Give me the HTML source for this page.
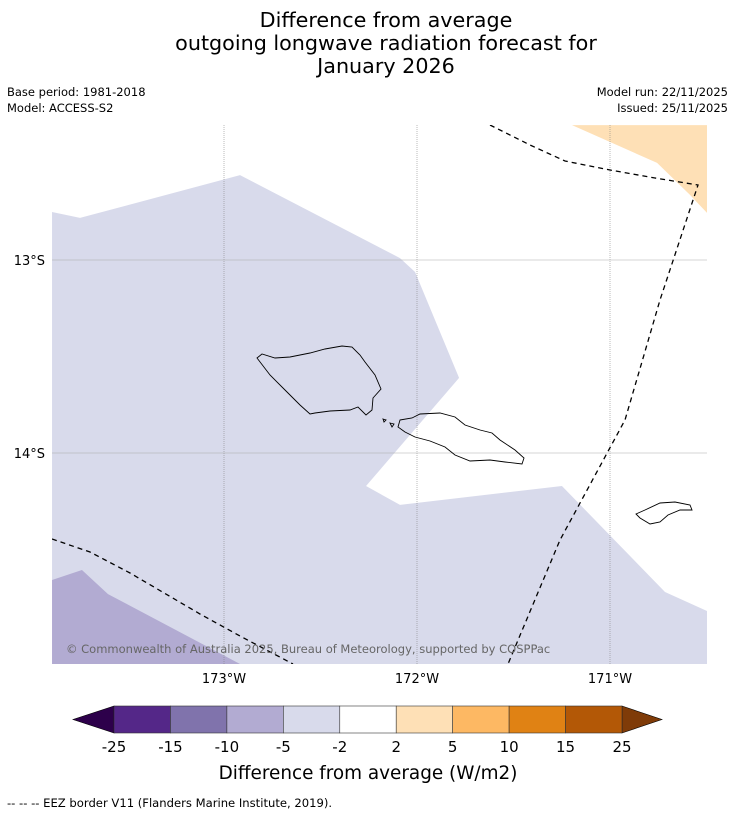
<!DOCTYPE html>
<html><head><meta charset="utf-8"><style>
body{margin:0;background:#fff;font-family:"DejaVu Sans","Liberation Sans",sans-serif;}
svg{display:block}
</style></head><body>
<svg width="736" height="816" viewBox="0 0 736 816" xmlns="http://www.w3.org/2000/svg">
<g font-family="DejaVu Sans, Liberation Sans, sans-serif" fill="#000">
<text x="386" y="27" font-size="20.7" text-anchor="middle">Difference from average</text>
<text x="386" y="50" font-size="20.7" text-anchor="middle">outgoing longwave radiation forecast for</text>
<text x="386" y="73" font-size="20.7" text-anchor="middle">January 2026</text>
<text x="7" y="96" font-size="11.5">Base period: 1981-2018</text>
<text x="7" y="112" font-size="11.5">Model: ACCESS-S2</text>
<text x="728" y="96" font-size="11.5" text-anchor="end">Model run: 22/11/2025</text>
<text x="728" y="112" font-size="11.5" text-anchor="end">Issued: 25/11/2025</text>
</g>
<g id="map"></g>
<g id="cbar"></g>
<text x="7" y="807" font-size="11.6" font-family="DejaVu Sans, Liberation Sans, sans-serif">--  --  -- EEZ border V11 (Flanders Marine Institute, 2019).</text>
</svg>
<script>
const lonTicks=[-173,-172,-171];
const lonTickLabels=["173°W","172°W","171°W"];
const latTicks=[-13,-14];
const latTickLabels=["13°S","14°S"];
const lightRegion=[[-173.891,-12.751],[-173.746,-12.782],[-172.917,-12.560],[-172.088,-12.990],[-172.010,-13.062],[-171.782,-13.611],[-172.264,-14.171],[-172.088,-14.269],[-171.249,-14.171],[-170.715,-14.720],[-170.497,-14.819],[-170.497,-15.093],[-173.891,-15.093]];
const midRegion=[[-173.891,-14.658],[-173.736,-14.606],[-173.601,-14.731],[-172.917,-15.093],[-173.891,-15.093]];
const orangeRegion=[[-171.197,-12.301],[-170.497,-12.301],[-170.497,-12.756],[-170.585,-12.663],[-170.756,-12.497]];
const cbarBounds=["-25","-15","-10","-5","-2","2","5","10","15","25"];
const cbarColors=["#542788","#8073ac","#b2abd2","#d8daeb","#ffffff","#fee0b6","#fdb863","#e08214","#b35806"];
const NS="http://www.w3.org/2000/svg";
const X0=52,X1=707,Y0=125,Y1=664;
function sx(lon){return 224+(lon+173)*193;}
function sy(lat){return 260-(lat+13)*193;}
function mk(tag,attrs,parent){const e=document.createElementNS(NS,tag);for(const k in attrs)e.setAttribute(k,attrs[k]);parent.appendChild(e);return e;}
const map=document.getElementById('map');
const defs=mk('defs',{},map);
const cp=mk('clipPath',{id:'clip'},defs);
mk('rect',{x:X0,y:Y0,width:X1-X0,height:Y1-Y0},cp);
const g=mk('g',{'clip-path':'url(#clip)'},map);
function poly(pts,fill,name){const p=mk('polygon',{points:pts.map(q=>sx(q[0])+','+sy(q[1])).join(' '),fill:fill},g);

}
poly(lightRegion,'#d8daeb','region-minus5-to-minus2');
poly(midRegion,'#b2abd2','region-minus10-to-minus5');
poly(orangeRegion,'#fee0b6','region-2-to-5');
lonTicks.forEach((v,i)=>{const l=mk('line',{x1:sx(v),x2:sx(v),y1:Y0,y2:Y1,stroke:'#777','stroke-width':0.5,'stroke-dasharray':'1,1'},g);


const t=mk('text',{x:sx(v),y:683,'font-size':13,'text-anchor':'middle','font-family':'DejaVu Sans, sans-serif'},map);t.textContent=lonTickLabels[i];

});
latTicks.forEach((v,i)=>{const l=mk('line',{x1:X0,x2:X1,y1:sy(v),y2:sy(v),stroke:'#aaa','stroke-width':0.6},g);


const t=mk('text',{x:45,y:sy(v)+5,'font-size':13,'text-anchor':'end','font-family':'DejaVu Sans, sans-serif'},map);t.textContent=latTickLabels[i];

});
const coast=[
"M257,358 L262,354 L275,358 L290,357 L310,353 L325,349 L342,346 L352,347 L360,355 L365,362 L375,375 L381,389 L373,398 L372,410 L366,415 L358,407 L350,410 L330,411 L315,413 L310,414 L300,405 L285,390 L270,375 Z",
"M400,420 L412,418 L420,414 L440,413 L455,417 L465,425 L480,430 L492,433 L500,440 L515,450 L524,458 L522,464 L505,462 L490,460 L470,461 L455,455 L445,447 L430,441 L415,437 L405,432 L398,427 Z",
"M383,419 L386,420 L384,422 Z","M390,423 L394,424 L392,427 Z",
"M636,514 L645,510 L660,503 L675,502 L690,505 L692,510 L680,510 L668,515 L660,522 L650,524 L640,518 Z"];
coast.forEach(d=>{const p=mk('path',{d:d,fill:'none',stroke:'#000','stroke-width':0.9},g);

});
const eez=["M490,125 L530,145 L565,161 L610,170 L655,178 L698,185 L660,300 L625,420 L560,540 L508,664",
"M52,539 L90,552 L130,573 L200,614 L240,636 L293,664"];
eez.forEach(d=>{const p=mk('path',{d:d,fill:'none',stroke:'#000','stroke-width':1.3,'stroke-dasharray':'5,4'},g);

});
const cr=mk('text',{x:66,y:653,'font-size':11.5,fill:'#666','font-family':'DejaVu Sans, sans-serif'},map);
cr.textContent="© Commonwealth of Australia 2025, Bureau of Meteorology, supported by COSPPac";


const cb=document.getElementById('cbar');
const CX0=114,CX1=622,CY0=706,CY1=733,n=cbarColors.length,w=(CX1-CX0)/n;
const la=mk('polygon',{points:`${CX0},${CY0} ${CX0},${CY1} 73,719.5`,fill:'#2d004b',stroke:'#000','stroke-width':0.6},cb);


const ra=mk('polygon',{points:`${CX1},${CY0} ${CX1},${CY1} 662,719.5`,fill:'#7f3b08',stroke:'#000','stroke-width':0.6},cb);


cbarColors.forEach((c,i)=>{const r=mk('rect',{x:CX0+i*w,y:CY0,width:w,height:CY1-CY0,fill:c,stroke:'#333','stroke-width':0.6},cb);

});
cbarBounds.forEach((b,i)=>{const t=mk('text',{x:CX0+i*w,y:752,'font-size':15,'text-anchor':'middle','font-family':'DejaVu Sans, sans-serif'},cb);t.textContent=b;

});
const ct=mk('text',{x:368,y:779,'font-size':18.4,'text-anchor':'middle','font-family':'DejaVu Sans, sans-serif'},cb);
ct.textContent="Difference from average (W/m2)";


</script>
</body></html>
